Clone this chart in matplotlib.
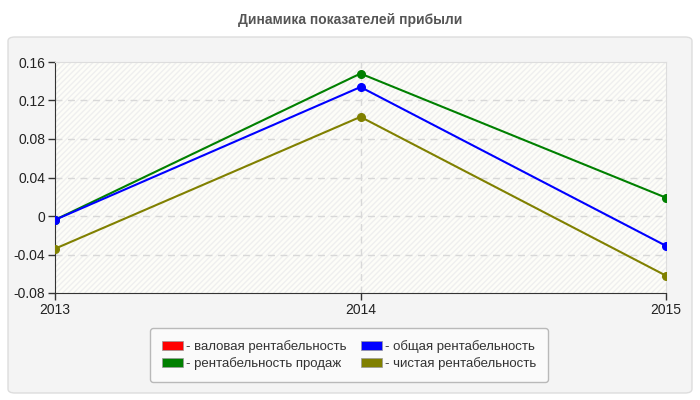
import matplotlib.pyplot as plt
import numpy as np
from matplotlib.patches import FancyBboxPatch

years = ['2013', '2014', '2015']
gross = [np.nan, np.nan, np.nan]   # валовая - no points on the chart
total = [-0.004, 0.134, -0.031]
sales = [-0.004, 0.148, 0.019]
net = [-0.034, 0.103, -0.062]

labels = ['- валовая рентабельность', '- общая рентабельность',
          '- рентабельность продаж', '- чистая рентабельность']
colors = ['#ff0000', '#0000ff', '#008000', '#808000']
series = [gross, sales, total, net]
draw_colors = [colors[0], colors[2], colors[1], colors[3]]

plt.rcParams['font.family'] = ['Liberation Sans', 'DejaVu Sans']

fig = plt.figure(figsize=(7, 4), dpi=100)
fig.patch.set_facecolor('white')

# panel behind chart
panel = FancyBboxPatch((8 / 700, 7 / 400), 684 / 700, 356 / 400,
                       boxstyle='round,pad=0,rounding_size=0.01',
                       transform=fig.transFigure, facecolor='#f4f4f4',
                       edgecolor='#dddddd', lw=1, zorder=-5)
fig.patches.append(panel)

fig.text(0.5, 1 - 20 / 400, 'Динамика показателей прибыли', ha='center', va='center',
         fontsize=10, fontweight='bold', color='#555555')

ax = fig.add_axes([55 / 700, 1 - 293 / 400, 611 / 700, 231 / 400])
ax.set_zorder(2)
ax.set_facecolor('#fdfdf8')
ax.fill_between([0, 2], -0.08, 0.16, facecolor='none', edgecolor='#efefef',
                hatch='//////', lw=0, zorder=0)

x = np.arange(len(years))
for s, c in zip(series, draw_colors):
    ax.plot(x, s, color=c, lw=1.5, marker='o', ms=5.5, zorder=3)

ax.set_xlim(0, 2)
ax.set_ylim(-0.08, 0.16)
ax.set_xticks(x)
ax.set_xticklabels(years)
yt = [-0.08, -0.04, 0, 0.04, 0.08, 0.12, 0.16]
ax.set_yticks(yt)
ax.set_yticklabels(['-0.08', '-0.04', '0', '0.04', '0.08', '0.12', '0.16'])
ax.tick_params(labelsize=10, colors='#333333', length=5, width=1, pad=2)
ax.tick_params(axis='x', labelcolor='#222222')
ax.tick_params(axis='y', labelcolor='#222222')

for v in yt[1:-1]:
    ax.axhline(v, color='#d8d8d8', lw=1, ls=(0, (5, 4)), zorder=1)
ax.axvline(1, color='#d8d8d8', lw=1, ls=(0, (5, 4)), zorder=1)

for sp in ['top', 'right']:
    ax.spines[sp].set_color('#dddddd')
for sp in ['left', 'bottom']:
    ax.spines[sp].set_color('#333333')

# legend fills column-wise, so order as валовая, продаж | общая, чистая
order = [0, 2, 1, 3]
handles = [plt.Rectangle((0, 0), 1, 1, facecolor=colors[i], edgecolor='#999999', lw=0.5)
           for i in order]
leg = fig.legend(handles, [labels[i] for i in order], loc='center',
                 bbox_to_anchor=(349 / 700, 1 - 355 / 400),
                 ncol=2, fontsize=9.5, frameon=True, handlelength=1.6, handleheight=0.7,
                 handletextpad=0.2, columnspacing=1.1, borderpad=0.9, labelspacing=0.3,
                 fancybox=True)
leg.get_frame().set_facecolor('#fcfcfc')
leg.get_frame().set_edgecolor('#aaaaaa')
for t in leg.get_texts():
    t.set_color('#333333')

fig.savefig('out.png', dpi=100)
